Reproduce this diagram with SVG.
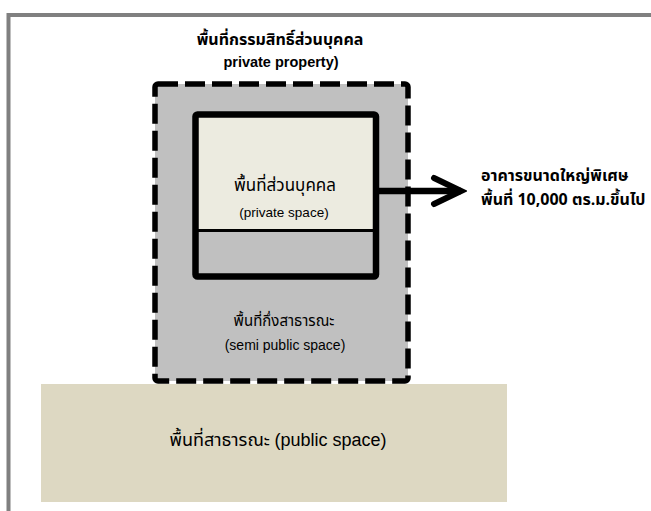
<svg xmlns="http://www.w3.org/2000/svg" width="651" height="511" viewBox="0 0 651 511">
<defs>
<style>
.th{font-family:"Noto Sans Thai","Tahoma","Liberation Sans","Noto Sans",sans-serif;fill:#000}
.en{font-family:"Liberation Sans",Arial,sans-serif;fill:#000}
.b{font-weight:bold}
.c{text-anchor:middle}
</style>
<marker id="chev" markerUnits="userSpaceOnUse" markerWidth="40" markerHeight="40" viewBox="-34 -20 40 40" refX="0" refY="0" orient="auto">
<path d="M-27,-13 L0,0 L-27,13" fill="none" stroke="#000" stroke-width="6" stroke-linecap="round" stroke-linejoin="miter"/>
</marker>
</defs>
<rect width="651" height="511" fill="#fff"/>
<g id="frame">
<path d="M8.5,511 V15 H651" fill="none" stroke="#808080" stroke-width="4"/>
</g>
<g id="title">
<text class="th b c" x="280" y="45" font-size="16">พื้นที่กรรมสิทธิ์ส่วนบุคคล</text>
<text class="en b c" x="281" y="67" font-size="14.5">private property)</text>
</g>
<g id="semi-public">
<rect x="155" y="84" width="253" height="297" rx="3" fill="#c0c0c0" stroke="#000" stroke-width="5.5" stroke-dasharray="20 7"/>
<text class="th c" x="284" y="326" font-size="15">พื้นที่กึ่งสาธารณะ</text>
<text class="en c" x="285" y="350" font-size="14">(semi public space)</text>
</g>
<g id="private">
<rect x="195.5" y="114.5" width="180.5" height="116" fill="#ecebe0"/>
<rect x="195.5" y="230.5" width="180.5" height="46" fill="#c0c0c0"/>
<line x1="195.5" y1="230.5" x2="376" y2="230.5" stroke="#000" stroke-width="3"/>
<rect x="195.5" y="114.5" width="180.5" height="162" rx="2" fill="none" stroke="#000" stroke-width="6.5"/>
<text class="th c" x="285" y="191" font-size="17">พื้นที่ส่วนบุคคล</text>
<text class="en c" x="284" y="217" font-size="13.5">(private space)</text>
</g>
<g id="public">
<rect x="41" y="384" width="466" height="118" fill="#ddd8c2"/>
<text class="th c" x="278" y="446" font-size="18">พื้นที่สาธารณะ <tspan class="en">(public space)</tspan></text>
</g>
<g id="large-building">
<text class="th b" x="481" y="181" font-size="16">อาคารขนาดใหญ่พิเศษ</text>
<text class="th b" x="481" y="205" font-size="16">พื้นที่ 10,000 ตร.ม.ขึ้นไป</text>
</g>
<g id="connectors">
<line x1="376" y1="191" x2="461" y2="191" stroke="#000" stroke-width="6.5" marker-end="url(#chev)"/>
</g>
</svg>
